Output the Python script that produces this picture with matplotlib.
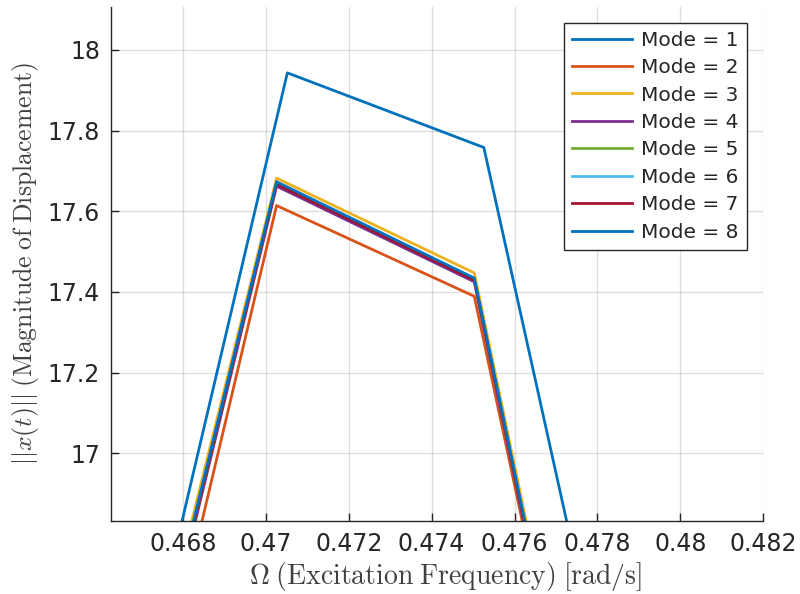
import numpy as np
import matplotlib
matplotlib.use('Agg')
import matplotlib.pyplot as plt

plt.rcParams['mathtext.fontset'] = 'cm'
plt.rcParams['font.family'] = 'DejaVu Sans'

# excitation frequency samples around the resonance peak
omega_1 = [0.46578, 0.47052, 0.47526, 0.48000]
omega_n = [0.46549, 0.47026, 0.47503, 0.47980]

# displacement magnitude for each mode
mode_1 = [15.87, 17.943, 17.758, 15.56]
mode_2 = [15.54, 17.614, 17.389, 15.09]
mode_3 = [15.70, 17.682, 17.447, 15.10]
mode_4 = [15.64, 17.662, 17.425, 15.05]
mode_5 = [15.66, 17.669, 17.431, 15.06]
mode_6 = [15.67, 17.671, 17.433, 15.07]
mode_7 = [15.66, 17.667, 17.429, 15.06]
mode_8 = [15.67, 17.673, 17.434, 15.07]

modes = [mode_1, mode_2, mode_3, mode_4, mode_5, mode_6, mode_7, mode_8]
omegas = [omega_1] + [omega_n] * 7
colors = ['#0072BD', '#D95319', '#EDB120', '#7E2F8E',
          '#77AC30', '#4DBEEE', '#A2142F', '#0072BD']

xtick_labels = ['0.468', '0.47', '0.472', '0.474', '0.476', '0.478', '0.48', '0.482']
ytick_labels = ['17', '17.2', '17.4', '17.6', '17.8', '18']

fig = plt.figure(figsize=(8, 5.94), dpi=100)
ax = fig.add_axes([0.139, 0.123, 0.815, 0.865])

for i, (w, y) in enumerate(zip(omegas, modes)):
    ax.plot(w, y, color=colors[i], linewidth=2, label=f'Mode = {i + 1}')

ax.set_xlim(0.46627, 0.482)
ax.set_ylim(16.832, 18.106)
ax.set_xticks(np.arange(0.468, 0.4821, 0.002))
ax.set_xticklabels(xtick_labels)
ax.set_yticks([float(t) for t in ytick_labels])
ax.set_yticklabels(ytick_labels)

ax.grid(True, color='#262626', alpha=0.15, linewidth=1)
ax.spines['top'].set_visible(False)
ax.spines['right'].set_visible(False)
for s in ['left', 'bottom']:
    ax.spines[s].set_color('#262626')
    ax.spines[s].set_linewidth(1)
ax.tick_params(direction='in', length=6, width=1, colors='#262626',
               labelsize=17, pad=8)

ax.set_xlabel(r'$\Omega\;\mathrm{(Excitation\;Frequency)\;[rad/s]}$',
              fontsize=20, color='#404040')
ax.set_ylabel(r'$||x(t)||\;\mathrm{(Magnitude\;of\;Displacement)}$',
              fontsize=18.5, color='#404040')
ax.xaxis.set_label_coords(0.513, -0.076)
ax.yaxis.set_label_coords(-0.107, 0.5)

leg = ax.legend(loc='upper right', bbox_to_anchor=(0.975, 0.97), fontsize=14.5,
                handlelength=3.0, labelspacing=0.42, borderpad=0.4,
                handletextpad=0.45, borderaxespad=0, fancybox=False, framealpha=1)
leg.get_frame().set_edgecolor('#262626')
leg.get_frame().set_linewidth(1)
for t in leg.get_texts():
    t.set_color('#262626')

fig.savefig('out.png', dpi=100)
